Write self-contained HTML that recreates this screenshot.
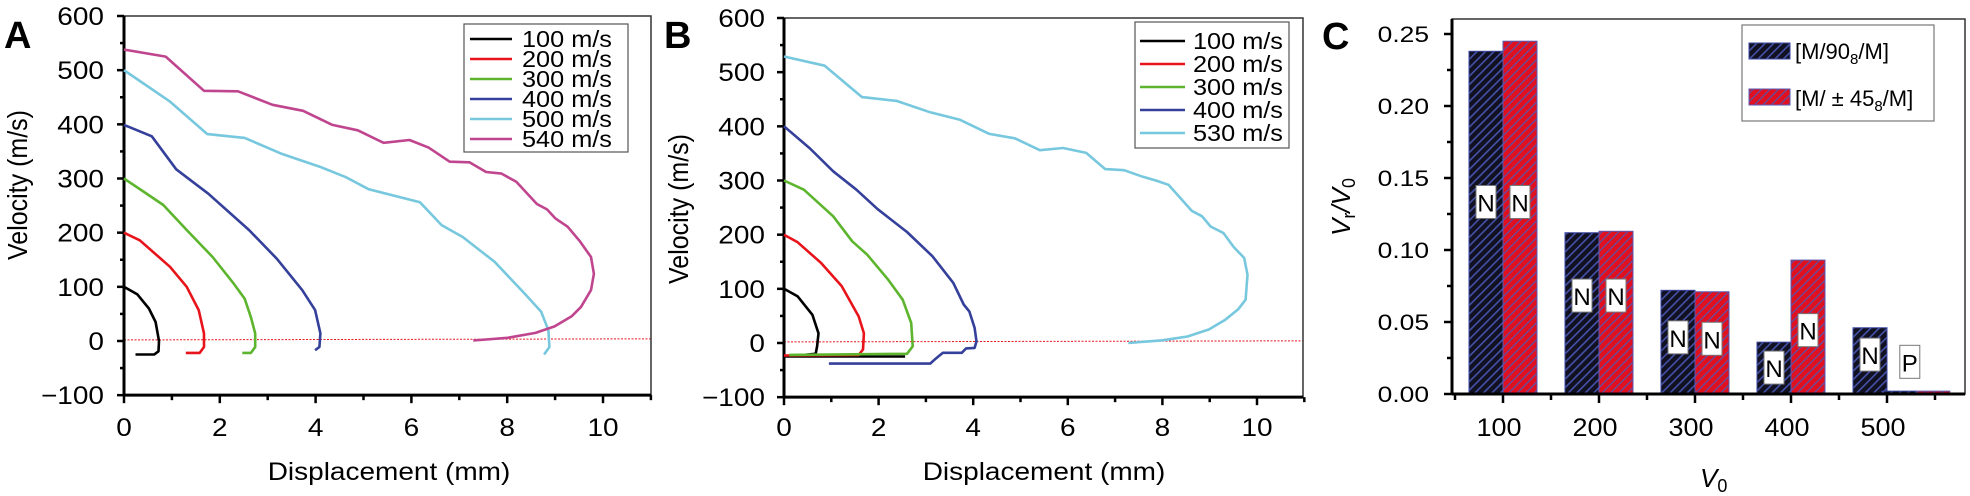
<!DOCTYPE html>
<html><head><meta charset="utf-8"><style>
html,body{margin:0;padding:0;background:#fff;}
svg{display:block;font-family:"Liberation Sans",Arial,sans-serif;}
</style></head><body>
<svg id="fig" width="1970" height="496" viewBox="0 0 1970 496" xmlns="http://www.w3.org/2000/svg">
<defs>
<pattern id="hatchK" patternUnits="userSpaceOnUse" width="6" height="6" patternTransform="rotate(45)">
<rect width="6" height="6" fill="#111122"/><rect x="0" y="0" width="1.6" height="6" fill="#4452a8"/></pattern>
<pattern id="hatchR" patternUnits="userSpaceOnUse" width="6" height="6" patternTransform="rotate(45)">
<rect width="6" height="6" fill="#e0101e"/><rect x="0" y="0" width="1.4" height="6" fill="#6a4a9a"/></pattern>
</defs>
<g id="A"></g>
<g id="B"></g>
<g id="C"></g>
</svg>
<script>
// ---------- Panel A data ----------
const aSeriesNames = ["100 m/s","200 m/s","300 m/s","400 m/s","500 m/s","540 m/s"];
const aColors = ["#000000","#e8141b","#5db52e","#34409a","#77c8de","#c0458f"];
const a100x = [0,0.28,0.52,0.66,0.73,0.72,0.63,0.24];
const a100v = [100,86,60,35,0,-19,-25,-25];
const a200x = [0,0.33,0.96,1.31,1.56,1.67,1.67,1.58,1.29];
const a200v = [200,186,137,100,57,14,-11,-22,-22];
const a300x = [0,0.42,0.82,1.31,1.85,2.29,2.52,2.65,2.74,2.74,2.65,2.47];
const a300v = [300,275,251,205,155,106,78,44,14,-11,-22,-22];
const a400x = [0,0.58,1.09,1.76,2.61,3.19,3.72,3.99,4.10,4.08,3.99];
const a400v = [399,378,317,272,205,152,94,57,14,-11,-17];
const a500x = [0,0.96,1.74,2.52,3.28,4.08,4.62,5.11,6.18,6.63,7.07,7.74,8.37,8.71,8.86,8.88,8.77];
const a500v = [500,442,382,375,346,322,303,280,256,214,192,146,87,54,20,-11,-25];
const a540x = [0,0.87,1.67,2.38,3.10,3.74,4.35,4.88,5.42,5.96,6.36,6.80,7.21,7.56,7.88,8.19,8.62,8.83,9.01,9.26,9.51,9.75,9.81,9.75,9.54,9.35,8.99,8.59,8.01,7.29];
const a540v = [538,525,462,461,436,425,399,389,366,371,357,331,330,312,309,294,253,243,226,211,185,155,124,94,63,46,27,15,6,1];
// ---------- Panel B data ----------
const bSeriesNames = ["100 m/s","200 m/s","300 m/s","400 m/s","530 m/s"];
const bColors = ["#000000","#e8141b","#5db52e","#34409a","#77c8de"];
const b100x = [0,0.29,0.6,0.73,0.70,0.67,0.05,2.56];
const b100v = [100,86,52,18,-6,-20,-25,-25];
const b200x = [0,0.29,0.78,1.22,1.58,1.69,1.67,1.58,0];
const b200v = [200,186,148,105,49,18,-12,-22,-23];
const b300x = [0,0.42,1.04,1.44,1.76,2.2,2.51,2.69,2.72,2.6,0.11];
const b300v = [300,283,234,188,163,117,80,37,-6,-20,-22];
const b400x = [0,0.55,1.04,1.53,1.98,2.6,3.14,3.58,3.8,3.92,4.03,4.07,4.03,3.85,3.76,3.36,3.18,3.09,0.95];
const b400v = [400,359,317,283,247,205,160,111,71,58,28,3,-9,-10,-18,-18,-31,-38,-38];
const b530x = [0,0.86,1.65,2.38,3.09,3.72,4.34,4.88,5.41,5.9,6.39,6.79,7.19,7.55,7.86,8.13,8.62,8.84,9.02,9.29,9.51,9.73,9.80,9.76,9.6,9.33,8.98,8.53,8.0,7.28];
const b530v = [529,512,454,447,426,412,386,378,356,360,351,321,319,308,300,292,244,234,215,203,177,157,126,80,62,43,25,12,5,0];
// ---------- Axis ticks ----------
const velTicks = [-100,0,100,200,300,400,500,600];
const dispTicks = [0,2,4,6,8,10];
// ---------- Panel C data ----------
const cCategories = [100,200,300,400,500,530];
const cTickLabels = ["100","200","300","400","500"];
const cBlack = [0.238,0.112,0.072,0.036,0.046,0.002];
const cRed = [0.245,0.113,0.071,0.093,null,0.002];
const cBlackLabels = ["N","N","N","N","N",""];
const cRedLabels = ["N","N","N","N","","P"];
const cBlackLabelY = [0.133,0.068,0.039,0.018,0.027,null];
const cRedLabelY = [0.133,0.068,0.038,0.044,null,0.022];
const cYTicks = ["0.00","0.05","0.10","0.15","0.20","0.25"];

const NS="http://www.w3.org/2000/svg";
function mk(parent,tag,attrs){const e=document.createElementNS(NS,tag);for(const k in attrs)e.setAttribute(k,attrs[k]);parent.appendChild(e);return e;}
function txt(parent,x,y,s,size,anchor,sx,extra){
  const t=mk(parent,'text',{transform:`translate(${x},${y}) scale(${sx||1.12},1)`,'font-size':size,'text-anchor':anchor||'middle',fill:'#000'});
  if(extra)for(const k in extra)t.setAttribute(k,extra[k]);
  t.textContent=s;return t;}

function linePanel(g,o){
  const X=d=>o.x0+(d-0)*(o.x10-o.x0)/10;
  const Y=v=>o.y0+(o.y0-o.y600)*(-v)/600;
  // zero line
  const z=mk(g,'line',{x1:o.x0,y1:Y(2),x2:o.xr+(o.extend||0),y2:Y(4),stroke:'#e8141b','stroke-width':1,'stroke-dasharray':'2,1.5'});
  
  
  // frame
  const f=mk(g,'rect',{x:o.x0,y:Y(600),width:o.xr-o.x0,height:Y(-100)-Y(600),fill:'none',stroke:'#333','stroke-width':1.5});
  
  
  mk(g,'line',{x1:o.x0,y1:Y(600),x2:o.x0,y2:Y(-100),stroke:'#000','stroke-width':3});
  mk(g,'line',{x1:o.x0,y1:Y(-100),x2:o.xr,y2:Y(-100),stroke:'#000','stroke-width':3});
  // y ticks
  for(let v=-100;v<=600;v+=50){const maj=v%100===0;mk(g,'line',{x1:o.x0-(maj?7:4),y1:Y(v),x2:o.x0,y2:Y(v),stroke:'#000','stroke-width':2.5});}
  velTicks.forEach(v=>{const t=txt(g,o.tickR,Y(v)+9,(v<0?'\u2212':'')+Math.abs(v),25,'end',1.12);
    
    });
  for(let d=0;d<=11;d+=1){const maj=d%2===0;mk(g,'line',{x1:X(d),y1:Y(-100),x2:X(d),y2:Y(-100)+(maj?8:5),stroke:'#000','stroke-width':2.5});}
  dispTicks.forEach(d=>{const t=txt(g,X(d),436,String(d),25,'middle',1.12);
    
    });
  const xl=txt(g,o.xlab,480,'Displacement (mm)',25,'middle',1.12);
  
  
  const yl=mk(g,'text',{transform:`translate(${o.ylabX},${o.ylabY}) rotate(-90) scale(1,1.12)`,'font-size':25,'text-anchor':'middle'});
  yl.textContent='Velocity (m/s)';
  
  
  const pl=mk(g,'text',{x:o.letterX,y:48,'font-size':38,'font-weight':'bold'});pl.textContent=o.letter;
  
  
  // series
  o.series.forEach((s,i)=>{
    const pts=s[0].map((d,j)=>X(d).toFixed(1)+','+Y(s[1][j]).toFixed(1)).join(' ');
    const p=mk(g,'polyline',{points:pts,fill:'none',stroke:o.colors[i],'stroke-width':2.6,'stroke-linejoin':'round'});
    
    
  });
  // legend
  const L=o.leg;
  const lb=mk(g,'rect',{x:L.x,y:L.y,width:L.w,height:L.h,fill:'#fff',stroke:'#555','stroke-width':1.2});
  
  
  o.names.forEach((n,i)=>{const cy=L.first+i*L.step;
    const ln=mk(g,'line',{x1:L.lx1,y1:cy,x2:L.lx2,y2:cy,stroke:o.colors[i],'stroke-width':2.6});
    
    
    const t=txt(g,L.tx,cy+8,n,23,'start',1.1);
    
    });
}

linePanel(document.getElementById('A'),{x0:124,x10:603,xr:651,y0:341,y600:16,tickR:104,xlab:389,ylabX:27,ylabY:185,letter:'A',letterX:4,
  names:aSeriesNames,colors:aColors,
  series:[[a100x,a100v],[a200x,a200v],[a300x,a300v],[a400x,a400v],[a500x,a500v],[a540x,a540v]],
  leg:{x:464,y:24,w:164,h:128,first:39,step:20,lx1:470,lx2:512,tx:522}});
linePanel(document.getElementById('B'),{x0:784,x10:1257,xr:1303,y0:343,y600:18,tickR:765,xlab:1044,ylabX:688,ylabY:209,letter:'B',letterX:664,
  names:bSeriesNames,colors:bColors,
  series:[[b100x,b100v],[b200x,b200v],[b300x,b300v],[b400x,b400v],[b530x,b530v]],
  leg:{x:1135,y:22,w:154,h:126,first:41,step:23,lx1:1140,lx2:1185,tx:1193}});

// ---------- Panel C ----------
(function(){
  const g=document.getElementById('C');
  const X=v=>1503+(v-100)*0.96;
  const Y=r=>394-r*1440;
  const bw=34;
  const fr=mk(g,'rect',{x:1452,y:19,width:513,height:375,fill:'none',stroke:'#333','stroke-width':1.5});
  
  
  cCategories.forEach((c,i)=>{
    const vb=cBlack[i];
    if(vb!=null){const r=mk(g,'rect',{x:X(c)-bw,y:Y(vb),width:bw,height:Y(0)-Y(vb),fill:'url(#hatchK)',stroke:'#3a46a0','stroke-width':1});
      
      }
    const vr=cRed[i];
    if(vr!=null){const r=mk(g,'rect',{x:X(c),y:Y(vr),width:bw,height:Y(0)-Y(vr),fill:'url(#hatchR)',stroke:'#5a58b0','stroke-width':1});
      
      }
  });
  function lab(cx,val,s){const cy=Y(val);
    const b=mk(g,'rect',{x:cx-10,y:cy-17,width:20,height:33,fill:'#fff',stroke:'#777','stroke-width':1});
    
    
    const t=txt(g,cx,cy+9,s,24,'middle',1.0);
    
    }
  cCategories.forEach((c,i)=>{
    if(cBlackLabels[i])lab(X(c)-bw/2,cBlackLabelY[i],cBlackLabels[i]);
    if(cRedLabels[i])lab(c===530?X(c)-6:X(c)+bw/2,cRedLabelY[i],cRedLabels[i]);
  });
  mk(g,'line',{x1:1452,y1:19,x2:1452,y2:394,stroke:'#000','stroke-width':3});
  mk(g,'line',{x1:1452,y1:394,x2:1965,y2:394,stroke:'#000','stroke-width':3});
  cYTicks.forEach((s,i)=>{const v=parseFloat(s);
    mk(g,'line',{x1:1444,y1:Y(v),x2:1452,y2:Y(v),stroke:'#000','stroke-width':2.5});
    if(i<5)mk(g,'line',{x1:1447,y1:Y(v+0.025),x2:1452,y2:Y(v+0.025),stroke:'#000','stroke-width':2.5});
    const t=txt(g,1429,Y(v)+8,s,22,'end',1.2);
    
    });
  cTickLabels.forEach(s=>{const v=+s;
    mk(g,'line',{x1:X(v),y1:394,x2:X(v),y2:403,stroke:'#000','stroke-width':2.5});
    mk(g,'line',{x1:X(v-50),y1:394,x2:X(v-50),y2:400,stroke:'#000','stroke-width':2.5});
    const t=txt(g,X(v)-4,436,s,25,'middle',1.08);
    
    });
  mk(g,'line',{x1:X(550),y1:394,x2:X(550),y2:400,stroke:'#000','stroke-width':2.5});
  const xl=mk(g,'text',{x:1700,y:487,'font-size':26,'font-style':'italic'});
  xl.innerHTML='V<tspan font-size="18" dy="5" font-style="normal">0</tspan>';
  
  
  const yl=mk(g,'text',{transform:'translate(1350,207) rotate(-90)','font-size':26,'font-style':'italic','text-anchor':'middle'});
  yl.innerHTML='V<tspan font-size="18" dy="5" font-style="normal">r</tspan><tspan dy="-5">/V</tspan><tspan font-size="18" dy="5" font-style="normal">0</tspan>';
  
  
  const pl=mk(g,'text',{x:1322,y:49,'font-size':38,'font-weight':'bold'});pl.textContent='C';
  
  
  const lg=mk(g,'rect',{x:1742,y:25,width:192,height:96,fill:'#fff',stroke:'#777','stroke-width':1.2});
  
  
  const s1=mk(g,'rect',{x:1749,y:43,width:41,height:16,fill:'url(#hatchK)',stroke:'#3a46a0','stroke-width':1});
  
  
  const s2=mk(g,'rect',{x:1749,y:89,width:41,height:16,fill:'url(#hatchR)',stroke:'#5a58b0','stroke-width':1});
  
  
  const t1=mk(g,'text',{x:1795,y:59,'font-size':22});
  t1.innerHTML='[M/90<tspan font-size="15" dy="5">8</tspan><tspan dy="-5">/M]</tspan>';
  
  
  const t2=mk(g,'text',{x:1795,y:106,'font-size':22});
  t2.innerHTML='[M/ \u00b1 45<tspan font-size="15" dy="5">8</tspan><tspan dy="-5">/M]</tspan>';
  
  
})();
</script>
</body></html>
